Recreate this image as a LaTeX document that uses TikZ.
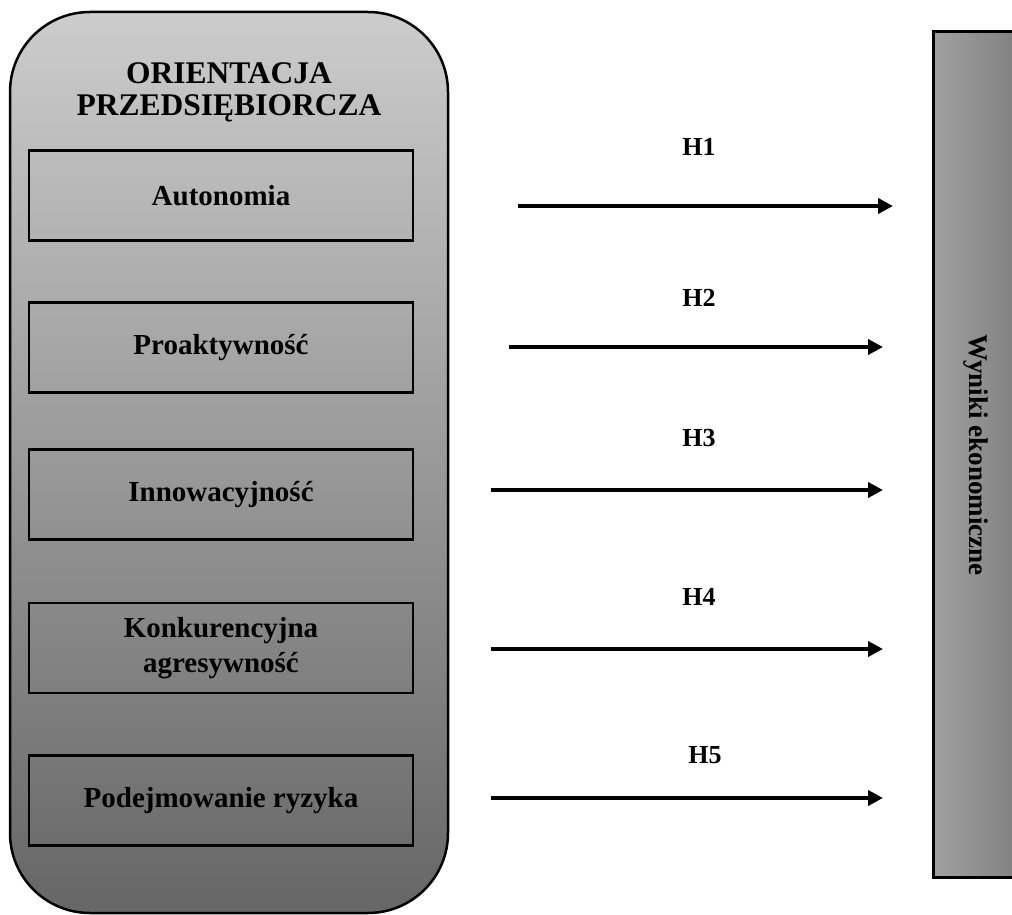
\documentclass[tikz,border=0pt]{standalone}
\usepackage{fontspec}
\setmainfont{Liberation Serif}
\usetikzlibrary{arrows.meta}
\begin{document}
\begin{tikzpicture}[x=1pt,y=-1pt,
  factor/.style={draw=black,line width=2.5pt,minimum width=384pt,minimum height=90pt,
    inner sep=0pt,align=center,font=\bfseries\fontsize{29}{35}\selectfont},
  hyp/.style={line width=4pt,-{Triangle[length=15pt,width=15pt]}},
  hlabel/.style={font=\bfseries\fontsize{26}{30}\selectfont,anchor=base}]
\clip (0,0) rectangle (1012,915);
% outer rounded container
\draw[line width=2.5pt,rounded corners=80pt,top color=black!20,bottom color=black!60]
  (10,12) rectangle (448,913);
\node[align=center,font=\bfseries\fontsize{31.5}{32}\selectfont] (title) at (229,92)
  {ORIENTACJA\\PRZEDSIĘBIORCZA};
% right box
\draw[line width=3pt,left color=black!37,right color=black!53] (933,32) rectangle (1040,877);
\node[rotate=-90,font=\bfseries\fontsize{27}{30}\selectfont] (wyniki) at (976,455) {Wyniki ekonomiczne};
% factors
\node[factor] (f1) at (221,195.5) {Autonomia};
\node[factor] (f2) at (221,347.5) {Proaktywność};
\node[factor] (f3) at (221,494.5) {Innowacyjność};
\node[factor] (f4) at (221,648) {Konkurencyjna\\agresywność};
\node[factor] (f5) at (221,800.5) {Podejmowanie ryzyka};
% arrows
\coordinate (s1) at (518,206); \coordinate (e1) at (893,206);
\coordinate (s2) at (509,347); \coordinate (e2) at (883,347);
\coordinate (s3) at (491,490); \coordinate (e3) at (883,490);
\coordinate (s4) at (491,649); \coordinate (e4) at (883,649);
\coordinate (s5) at (491,798); \coordinate (e5) at (883,798);
\draw[hyp] (s1) -- (e1);
\draw[hyp] (s2) -- (e2);
\draw[hyp] (s3) -- (e3);
\draw[hyp] (s4) -- (e4);
\draw[hyp] (s5) -- (e5);
\node[hlabel] (h1) at (699,156) {H1};
\node[hlabel] (h2) at (699,306) {H2};
\node[hlabel] (h3) at (699,446) {H3};
\node[hlabel] (h4) at (699,605) {H4};
\node[hlabel] (h5) at (705,763) {H5};
\end{tikzpicture}
\end{document}
